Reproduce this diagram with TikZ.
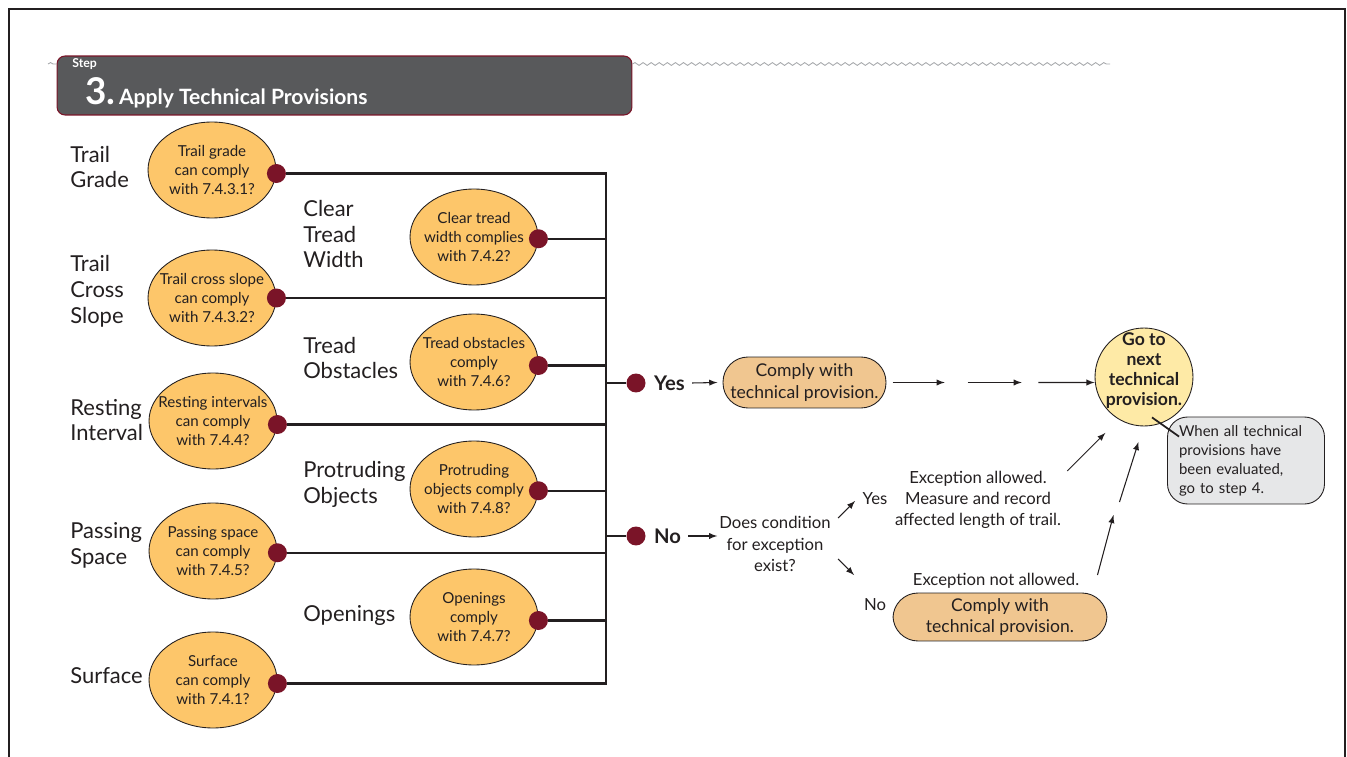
\documentclass[tikz,border=0pt]{standalone}
\usepackage{fontspec}
\setmainfont{Lato}
\usetikzlibrary{positioning,calc,shapes.geometric,decorations.pathmorphing}

\definecolor{ink}{HTML}{231F20}
\definecolor{dotred}{HTML}{7A1428}
\definecolor{qfill}{HTML}{FDC66A}
\definecolor{okfill}{HTML}{F0C690}
\definecolor{gofill}{HTML}{FEEAA6}
\definecolor{notefill}{HTML}{E6E7E8}
\definecolor{hdrfill}{HTML}{58595B}
\definecolor{wavegray}{HTML}{A7A9AC}

\begin{document}
\begin{tikzpicture}[x=0.02cm, y=-0.02cm,
	question/.style={shape=ellipse, draw=ink, line width=0.5pt, fill=qfill, minimum width=2.56cm, minimum height=1.92cm, inner xsep=-0.22cm, inner ysep=0pt, align=center, text=ink, font=\fontsize{8.6}{10.8}\selectfont},
	dot/.style={shape=circle, fill=dotred, minimum size=0.38cm, inner sep=0pt},
	topic/.style={anchor=west, align=left, inner sep=0pt, text=ink, font=\fontsize{12.5}{14.7}\selectfont},
	bus/.style={line width=1.3pt, draw=ink},
	arr/.style={line width=0.6pt, draw=ink, -latex},
	comply/.style={shape=rectangle, rounded corners=0.5cm, draw=ink, line width=0.5pt, fill=okfill, minimum width=3.26cm, minimum height=1.02cm, inner sep=0pt, align=center, text=ink, font=\fontsize{10}{12}\selectfont},
	answer/.style={inner sep=0pt, text=ink, font=\bfseries\fontsize{11.5}{12}\selectfont},
	remark/.style={inner sep=0pt, align=center, text=ink, font=\fontsize{9.5}{12}\selectfont},
	header/.style={shape=rectangle, rounded corners=0.16cm, fill=hdrfill, draw=dotred, line width=0.6pt, minimum width=11.5cm, minimum height=1.18cm},
	wave/.style={draw=wavegray, line width=0.5pt, decorate, decoration={snake, segment length=4.6pt, amplitude=0.8pt}},
	frame/.style={draw=ink, line width=1.5pt}]
	\useasboundingbox (0,0) rectangle (1347,757);
	\draw[frame] (9,757) -- (9,9) -- (1345,9) -- (1345,757);

	% step heading
	\node[header] (hdr) at (344.5,85.5) {};
	\coordinate (wavel) at (48,64);
	\coordinate (waver) at (1110,64);
	\draw[wave] (wavel) -- (wavel -| hdr.west);
	\draw[wave] (waver -| hdr.east) -- (waver);
	\node[anchor=west, inner sep=0pt, text=white, font=\bfseries\fontsize{7}{8}\selectfont] (steplbl) at (72,64) {Step};
	\node[anchor=base west, inner sep=0pt, text=white] (title) at (85,105) {{\bfseries\fontsize{21}{21}\selectfont 3.}\hspace{2pt}{\bfseries\fontsize{12}{12}\selectfont Apply Technical Provisions}};

	% topics
	\node[topic] (t1) at (70,167) {Trail\\Grade};
	\node[topic] (t2) at (70,291) {Trail\\Cross\\Slope};
	\node[topic] (t3) at (70,420) {Resting\\Interval};
	\node[topic] (t4) at (70,545) {Passing\\Space};
	\node[topic] (t5) at (70,676) {Surface};
	\node[topic] (t6) at (303,234) {Clear\\Tread\\Width};
	\node[topic] (t7) at (303,358) {Tread\\Obstacles};
	\node[topic] (t8) at (303,484) {Protruding\\Objects};
	\node[topic] (t9) at (303,615) {Openings};

	% questions
	\node[question] (q1) at (212,170) {Trail grade\\can comply\\with 7.4.3.1?};
	\node[question] (q2) at (212,298) {Trail cross slope\\can comply\\with 7.4.3.2?};
	\node[question] (q3) at (213,421) {Resting intervals\\can comply\\with 7.4.4?};
	\node[question] (q4) at (213,551) {Passing space\\can comply\\with 7.4.5?};
	\node[question] (q5) at (213,680) {Surface\\can comply\\with 7.4.1?};
	\node[question] (q6) at (474,237) {Clear tread\\width complies\\with 7.4.2?};
	\node[question] (q7) at (474,362) {Tread obstacles\\comply\\with 7.4.6?};
	\node[question] (q8) at (474,489) {Protruding\\objects comply\\with 7.4.8?};
	\node[question] (q9) at (474,617) {Openings\\comply\\with 7.4.7?};

	\node[dot] (d1) at ([yshift=-2pt]q1.east) {};
	\node[dot] (d2) at (q2.east) {};
	\node[dot] (d3) at ([yshift=-2pt]q3.east) {};
	\node[dot] (d4) at ([yshift=-1pt]q4.east) {};
	\node[dot] (d5) at ([yshift=-2pt]q5.east) {};
	\node[dot] (d6) at ([yshift=-1pt]q6.east) {};
	\node[dot] (d7) at ([yshift=-2pt]q7.east) {};
	\node[dot] (d8) at ([yshift=-1pt]q8.east) {};
	\node[dot] (d9) at ([yshift=-2pt]q9.east) {};

	\coordinate (bus) at (606,0);
	\draw[bus] (d1) -- (d1 -| bus) -- (d5 -| bus) -- (d5);
	\draw[bus] (d2) -- (d2 -| bus);
	\draw[bus] (d3) -- (d3 -| bus);
	\draw[bus] (d4) -- (d4 -| bus);
	\draw[bus] (d6) -- (d6 -| bus);
	\draw[bus] (d7) -- (d7 -| bus);
	\draw[bus] (d8) -- (d8 -| bus);
	\draw[bus] (d9) -- (d9 -| bus);

	% yes branch
	\node[dot] (dy) at (636,383) {};
	\draw[bus] (dy -| bus) -- (dy);
	\node[answer, right=0.16cm of dy] (yes) {Yes};
	\node[comply] (ok1) at (804.5,382.5) {Comply with\\technical provision.};
	\draw[arr] ([xshift=4pt]yes.east) -- ([xshift=-3pt]ok1.west);

	\node[shape=circle, draw=ink, line width=0.5pt, fill=gofill, minimum size=1.96cm, inner sep=0pt] (go) at (1144,377) {};
	\node[inner sep=0pt, align=center, text=ink, font=\bfseries\fontsize{10}{11.4}\selectfont] (gotxt) at (1144,371) {Go to\\next\\technical\\provision.};
	\coordinate (goin) at (go.west |- ok1.east);
	\draw[arr] ($(ok1.east)!0.03!(goin)$) -- ($(ok1.east)!0.28!(goin)$);
	\draw[arr] ($(ok1.east)!0.39!(goin)$) -- ($(ok1.east)!0.65!(goin)$);
	\draw[arr] ($(ok1.east)!0.73!(goin)$) -- (goin);

	\node[shape=rectangle, rounded corners=0.4cm, draw=ink, line width=0.5pt, fill=notefill, minimum width=3.14cm, minimum height=1.74cm, text width=2.68cm, align=left, inner sep=0pt, text=ink, font=\fontsize{8.5}{10.8}\selectfont] (note) at (1246,460.5) {When all technical\\provisions have\\been evaluated,\\go to step 4.};
	\draw[line width=1pt, draw=ink] ([shift={(8,-9)}]go.south) -- ([shift={(12,20)}]note.north west);

	% no branch
	\node[dot] (dn) at (636,536) {};
	\draw[bus] (dn -| bus) -- (dn);
	\node[answer, right=0.16cm of dn] (no) {No};
	\node[remark] (cond) at (775,544) {Does condition\\for exception\\exist?};
	\coordinate (condin) at (no.east -| cond.west);
	\draw[arr] ([xshift=4pt]no.east) -- ([xshift=-1pt]condin);

	\node[remark] (yes2) at (875,499) {Yes};
	\node[remark] (no2) at (875,605) {No};
	\draw[arr] ([shift={(7,-26)}]cond.east) -- ++(17,-17);
	\draw[arr] ([shift={(7,15)}]cond.east) -- ++(16,16);

	\node[remark] (exc1) at (978,500) {Exception allowed.\\Measure and record\\affected length of trail.};
	\draw[arr] ([shift={(6,0)}]exc1.north east) -- ++(38,-38);

	\node[remark] (exc2) at (996,581) {Exception not allowed.};
	\node[comply, minimum width=4.28cm, minimum height=0.96cm] (ok2) at (1000,617) {Comply with\\technical provision.};
	\draw[arr] ([shift={(18,-6)}]exc2.east) -- ++(16,-60);
	\draw[arr] ([shift={(40,-79)}]exc2.east) -- ++(19,-60);
\end{tikzpicture}
\end{document}
